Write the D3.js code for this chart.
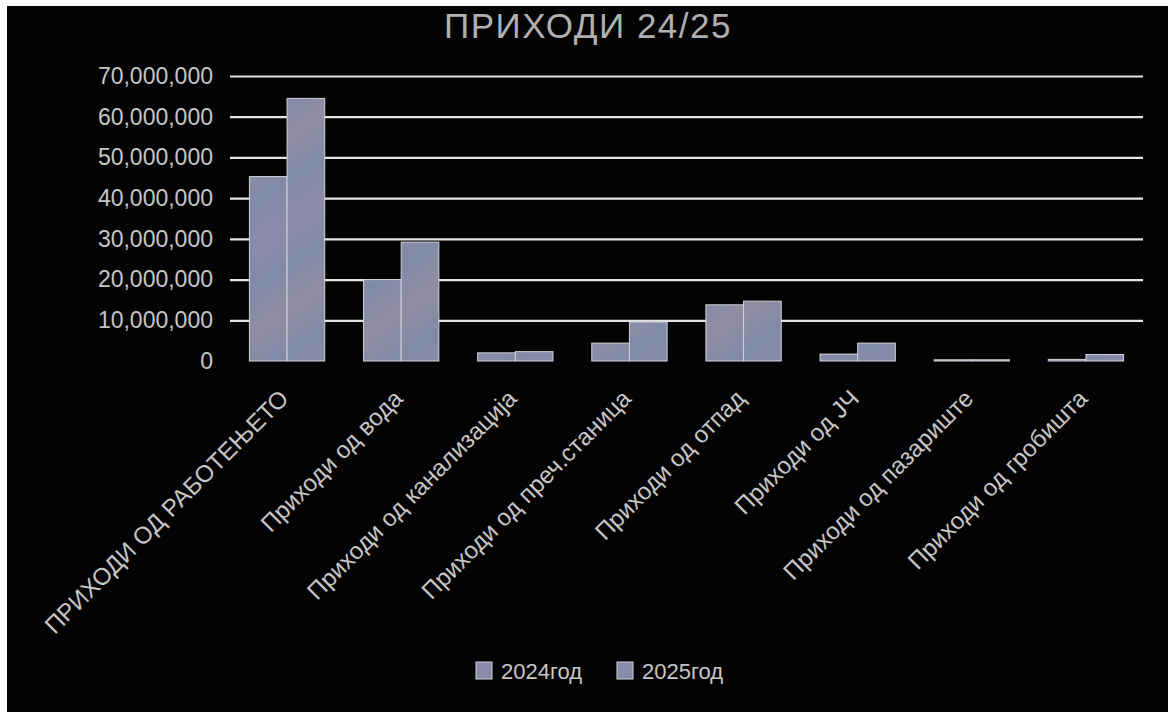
<!DOCTYPE html>
<html>
<head>
<meta charset="utf-8">
<script src="https://cdn.jsdelivr.net/npm/d3@7"></script>
<style>
  html, body { margin: 0; padding: 0; background: #fff; }
  svg { display: block; }
</style>
</head>
<body>
<div id="chart"></div>
<script>
const title = "ПРИХОДИ 24/25";
const categories = [
  "ПРИХОДИ ОД РАБОТЕЊЕТО",
  "Приходи од вода",
  "Приходи од канализација",
  "Приходи од преч.станица",
  "Приходи од отпад",
  "Приходи од ЈЧ",
  "Приходи од пазариште",
  "Приходи од гробишта"
];
const seriesNames = ["2024год", "2025год"];
const values2024 = [45300000, 20000000, 2000000, 4400000, 13800000, 1700000, 300000, 400000];
const values2025 = [64500000, 29200000, 2300000, 9600000, 14700000, 4400000, 300000, 1600000];
const yTicks = [0, 10000000, 20000000, 30000000, 40000000, 50000000, 60000000, 70000000];

(() => {
  const width = 1168, height = 712;
  const margin = { top: 76, right: 25, left: 230 };
  const w = width - margin.left - margin.right;
  const h = 361 - margin.top;
  const font = "'Liberation Sans', Arial, sans-serif";

  const svg = d3.select("#chart").append("svg")
    .attr("width", width).attr("height", height);

  // black card, white strip top/left like the scan
  svg.append("rect")
    .attr("x", 7).attr("y", 6)
    .attr("width", width - 7).attr("height", height - 6)
    .attr("fill", "#030303");

  // bar fill: greyish lavender with a soft diagonal shimmer
  const defs = svg.append("defs");
  const grad = defs.append("linearGradient")
    .attr("id", "barFill")
    .attr("gradientUnits", "userSpaceOnUse")
    .attr("x1", 0).attr("y1", 0).attr("x2", 40).attr("y2", 60)
    .attr("spreadMethod", "reflect");
  grad.append("stop").attr("offset", "0%").attr("stop-color", "#8d8aaa");
  grad.append("stop").attr("offset", "50%").attr("stop-color", "#808ba8");
  grad.append("stop").attr("offset", "100%").attr("stop-color", "#928ca2");

  svg.append("text")
    .attr("x", 588).attr("y", 38)
    .attr("text-anchor", "middle")
    .attr("fill", "#b0b0b0")
    .style("font-family", font)
    .style("font-size", "35px")
    .style("letter-spacing", "1.5px")
    .text(title);

  const g = svg.append("g").attr("transform", `translate(${margin.left},${margin.top})`);

  const x0 = d3.scaleBand().domain(categories).range([0, w]).paddingInner(0.34).paddingOuter(0.17);
  const x1 = d3.scaleBand().domain(seriesNames).range([0, x0.bandwidth()]);
  const y = d3.scaleLinear().domain([0, 70000000]).range([h, 0]);

  // gridlines (no line at zero)
  g.append("g")
    .call(d3.axisLeft(y).tickValues(yTicks.filter(v => v > 0)).tickSize(-w).tickFormat(""))
    .call(a => a.select(".domain").remove())
    .call(a => a.selectAll("line").attr("stroke", "#e4e4e4").attr("stroke-width", 2.2));

  // y labels
  g.append("g")
    .call(d3.axisLeft(y).tickValues(yTicks).tickSize(0).tickPadding(17)
      .tickFormat(d => d3.format(",")(d)))
    .call(a => a.select(".domain").remove())
    .call(a => a.selectAll("text")
      .attr("fill", "#c6c6c6")
      .style("font-family", font)
      .style("font-size", "23px"));

  const rows = categories.map((c, i) => ({ cat: c, vals: [values2024[i], values2025[i]] }));

  g.selectAll("g.grp")
    .data(rows)
    .enter().append("g")
    .attr("class", "grp")
    .attr("transform", d => `translate(${x0(d.cat)},0)`)
    .selectAll("rect")
    .data(d => d.vals.map((v, k) => ({ s: seriesNames[k], v })))
    .enter().append("rect")
    .attr("x", d => x1(d.s))
    .attr("y", d => y(d.v))
    .attr("width", x1.bandwidth())
    .attr("height", d => h - y(d.v))
    .attr("fill", "url(#barFill)")
    .attr("stroke", "#d2d2da")
    .attr("stroke-width", 1);

  // rotated category labels
  g.append("g")
    .selectAll("text")
    .data(categories)
    .enter().append("text")
    .attr("transform", d => `translate(${x0(d) + x0.bandwidth() / 2 - 3},${h + 33}) rotate(-45)`)
    .attr("text-anchor", "end")
    .attr("dy", "0.35em")
    .attr("fill", "#c6c6c6")
    .style("font-family", font)
    .style("font-size", "24px")
    .text(d => d);

  // legend
  const legend = svg.append("g").attr("transform", "translate(476,662)");
  const lx = [0, 141];
  seriesNames.forEach((name, i) => {
    const item = legend.append("g").attr("transform", `translate(${lx[i]},0)`);
    item.append("rect")
      .attr("width", 16).attr("height", 17)
      .attr("fill", "url(#barFill)")
      .attr("stroke", "#d2d2da");
    item.append("text")
      .attr("x", 25).attr("y", 17)
      .attr("fill", "#c6c6c6")
      .style("font-family", font)
      .style("font-size", "22px")
      .text(name);
  });
})();
</script>
</body>
</html>
